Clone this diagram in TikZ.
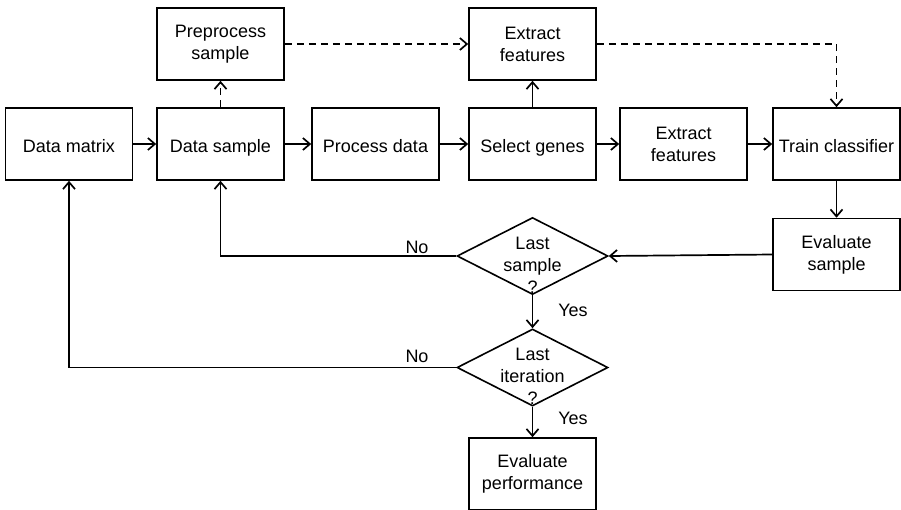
\documentclass[tikz,border=0pt]{standalone}
\usepackage{fontspec}
\setmainfont{Liberation Sans}
\usetikzlibrary{shapes.geometric,arrows.meta}
\begin{document}
\begin{tikzpicture}[x=1pt,y=-1pt,
  every node/.style={font=\fontsize{18}{22}\selectfont},
  box/.style={draw, rectangle, line width=1.6pt, minimum width=127pt, minimum height=72pt, inner sep=0pt, align=center},
  oneline/.style={text height=16pt, text depth=0pt},
  decision/.style={draw, diamond, line width=1.6pt, minimum width=151pt, minimum height=77pt, inner sep=0pt},
  conn/.style={line width=1.7pt, -{Straight Barb[length=7pt,width=12pt]}},
  dconn/.style={conn, dash pattern=on 7pt off 5pt}]
\useasboundingbox (0,0) rectangle (901,509);
\node[box,oneline] (dm) at (69,144) {Data matrix};
\node[box,oneline] (ds) at (220.5,144) {Data sample};
\node[box] (pp) at (220.5,44) {Preprocess\\sample};
\node[box,oneline] (pd) at (375.5,144) {Process data};
\node[box,oneline] (sg) at (532.5,144) {Select genes};
\node[box] (ef1) at (532.5,44) {Extract\\features};
\node[box] (ef2) at (683.5,144) {Extract\\features};
\node[box,oneline] (tc) at (836.5,144) {Train classifier};
\node[box] (es) at (836.5,254.5) {Evaluate\\sample};
\node[decision] (ls) at (532.5,256) {};
\node[align=center] (lst) at (532.5,265) {Last\\sample\\?};
\node[decision] (li) at (532.5,367.5) {};
\node[align=center] (lit) at (532.5,376) {Last\\iteration\\?};
\node[box] (ep) at (532.5,474) {Evaluate\\performance};
\node (no1) at (417,247) {No};
\node (no2) at (417,356) {No};
\node (yes1) at (573,310) {Yes};
\node (yes2) at (573,418) {Yes};
\draw[conn] (dm) -- (ds);
\draw[conn] (ds) -- (pd);
\draw[conn] (pd) -- (sg);
\draw[conn] (sg) -- (ef2);
\draw[conn] (ef2) -- (tc);
\draw[conn] (sg) -- (ef1);
\draw[dconn] (ds) -- (pp);
\draw[dconn] (pp) -- (ef1);
\draw[dconn] (ef1.east) -| (tc.north);
\draw[conn] (tc) -- (es);
\draw[conn] (es.west) -- (ls.east);
\draw[conn] (ls.west) -| (ds.south);
\draw[conn] (ls.south) -- (li.north);
\draw[conn] (li.west) -| (dm.south);
\draw[conn] (li.south) -- (ep.north);
\end{tikzpicture}
\end{document}
